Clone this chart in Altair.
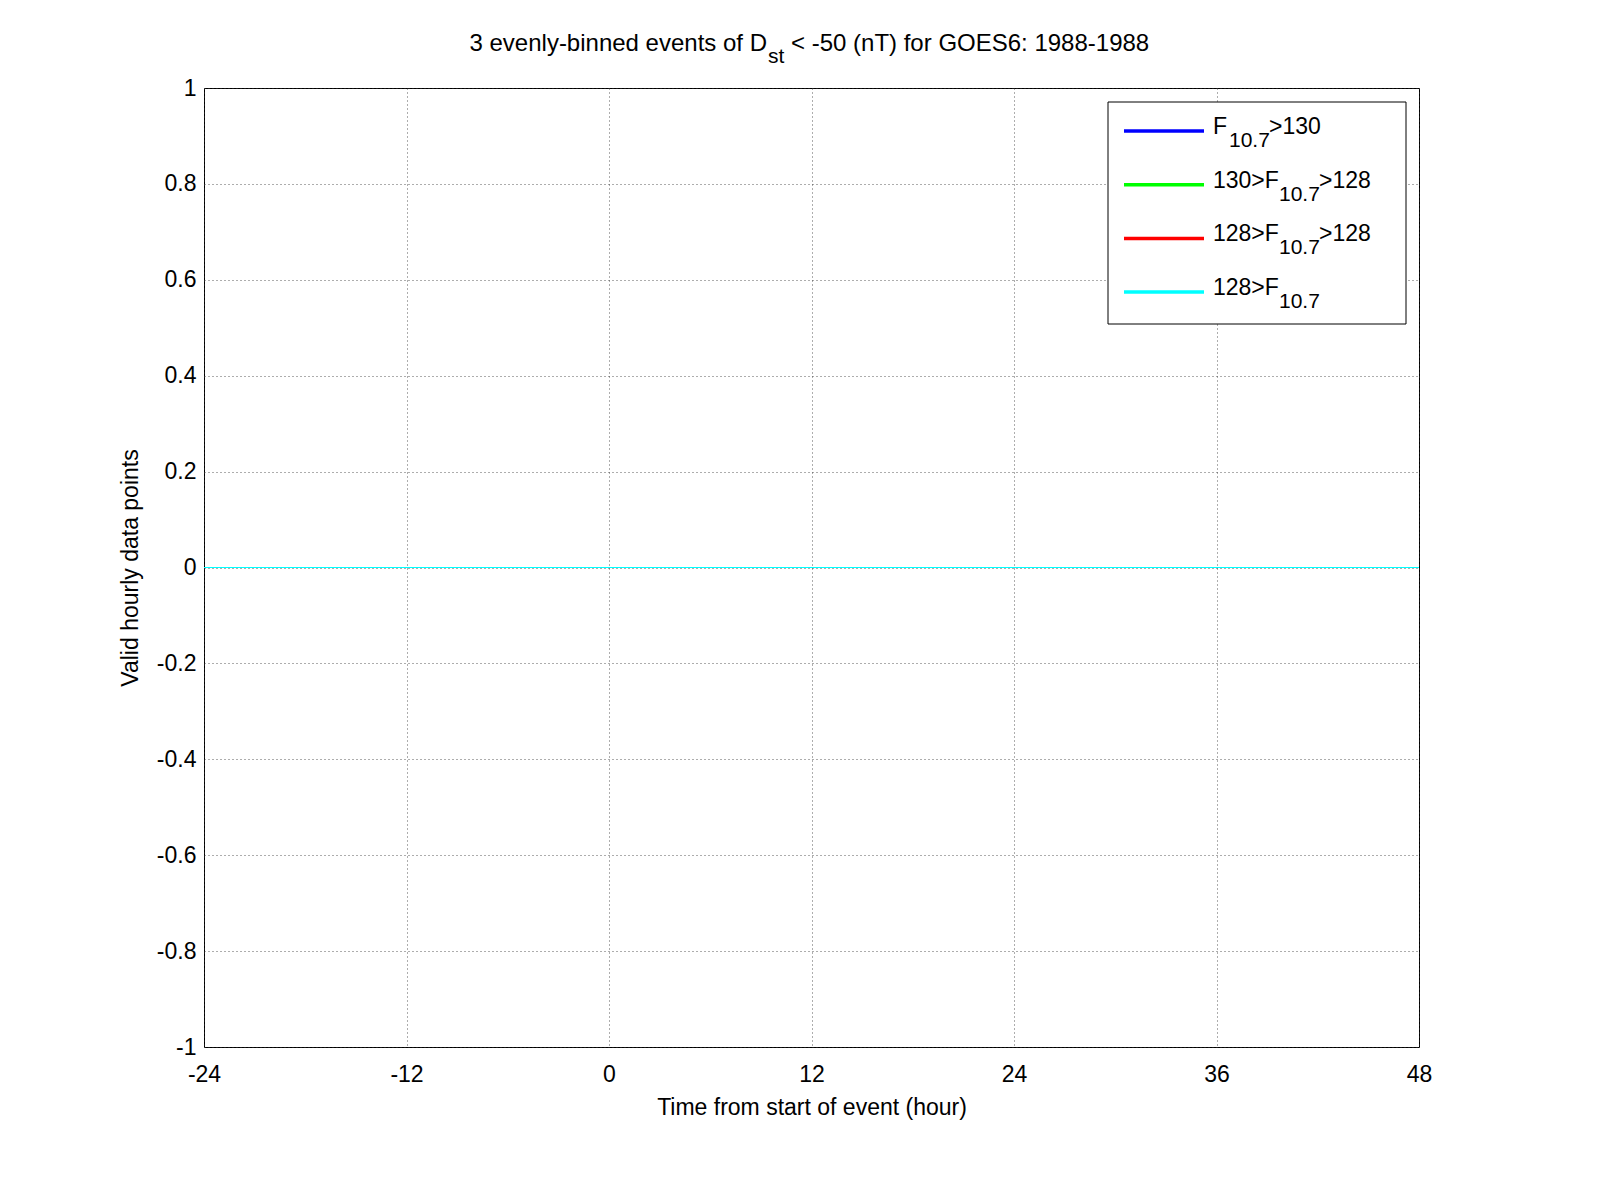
import altair as alt
import pandas as pd

hours = list(range(-24, 49))
series_names = ["F10.7>130", "130>F10.7>128", "128>F10.7>128", "128>F10.7"]
series_colors = ["#0000ff", "#00ff00", "#ff0000", "#00ffff"]
counts = {name: [0] * len(hours) for name in series_names}

rows = []
for i, name in enumerate(series_names):
    for h, v in zip(hours, counts[name]):
        rows.append({"hour": h, "value": v, "series": name, "order": i})
df = pd.DataFrame(rows)

W, H = 1215, 959
FONT = "Liberation Sans"

lines = alt.Chart(df).mark_line(strokeWidth=1.2).encode(
    x=alt.X("hour:Q", scale=alt.Scale(domain=[-24, 48], nice=False),
            axis=alt.Axis(values=[-24, -12, 0, 12, 24, 36, 48], labelFlush=False,
                          labelExpr="toString(datum.value)", labelPadding=16, titlePadding=10,
                          title="Time from start of event (hour)")),
    y=alt.Y("value:Q", scale=alt.Scale(domain=[-1, 1], nice=False),
            axis=alt.Axis(values=[-1, -0.8, -0.6, -0.4, -0.2, 0, 0.2, 0.4, 0.6, 0.8, 1],
                          labelFlush=False, labelExpr="toString(datum.value)",
                          title="Valid hourly data points")),
    color=alt.Color("series:N", scale=alt.Scale(domain=series_names, range=series_colors), legend=None),
    order="order:Q",
)

anno = []
def txt(s, x, y, size=23, align="left"):
    anno.append(alt.Chart(df.head(1)).mark_text(text=s, font=FONT, fontSize=size, align=align,
                                                baseline="middle", color="black")
                .encode(x=alt.value(x), y=alt.value(y)))

# title
txt("3 evenly-binned events of D", 563, -44, 24, "right")
txt("st", 564, -31, 21)
txt(" < -50 (nT) for GOES6: 1988-1988", 587, -44, 24)

# legend box
anno.append(alt.Chart(df.head(1)).mark_rect(fill="white", stroke="black", strokeWidth=1).encode(
    x=alt.value(904), x2=alt.value(1202), y=alt.value(14), y2=alt.value(236)))
legend_rows = [("F", ">130"), ("130>F", ">128"), ("128>F", ">128"), ("128>F", "")]
widths = {"F": 16, "130>F": 66, "128>F": 66}
for i, ((pre, post), col) in enumerate(zip(legend_rows, series_colors)):
    y = 43 + i * 53.7
    anno.append(alt.Chart(df.head(1)).mark_rule(color=col, strokeWidth=3.5).encode(
        x=alt.value(920), x2=alt.value(1000), y=alt.value(y)))
    w = widths[pre]
    txt(pre, 1009, y - 4, 23)
    txt("10.7", 1009 + w, y + 10, 21)
    if post:
        txt(post, 1009 + w + 40, y - 4, 23)

chart = alt.layer(lines, *anno).properties(
    width=W, height=H,
    autosize=alt.AutoSizeParams(type="none"),
    padding={"left": 196, "top": 80, "right": 120, "bottom": 120},
    background="white",
).configure_view(stroke="black", strokeWidth=1).configure_axis(
    grid=True, gridColor="#333333", gridDash=[1, 3], gridOpacity=0.8, gridWidth=1,
    ticks=False, domain=False, labelFont=FONT, labelFontSize=23, labelColor="black",
    titleFont=FONT, titleFontSize=23, titleFontWeight="normal", titleColor="black",
).configure_axisY(titlePadding=14, labelPadding=8)

chart.save("out.html", embed_options={"renderer": "svg", "actions": False})
